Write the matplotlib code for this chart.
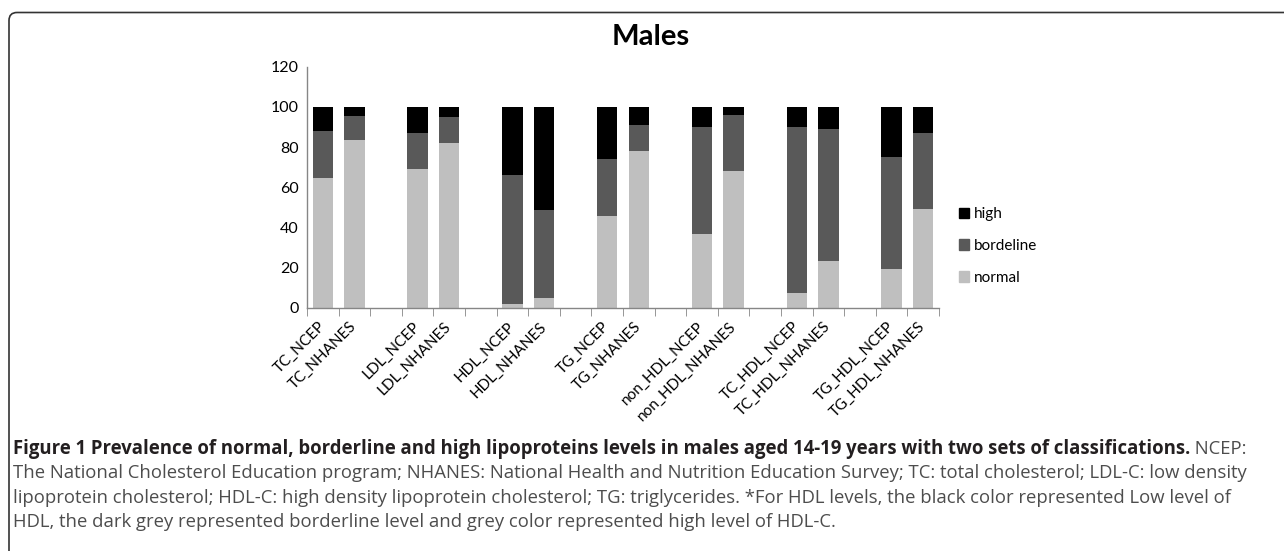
import matplotlib
matplotlib.use("Agg")
import matplotlib.pyplot as plt
from matplotlib.patches import FancyBboxPatch, Patch
import numpy as np

# category slots (blank strings are the gaps Excel leaves between groups)
labels = ["TC_NCEP", "TC_NHANES", "",
          "LDL_NCEP", "LDL_NHANES", "",
          "HDL_NCEP", "HDL_NHANES", "",
          "TG_NCEP", "TG_NHANES", "",
          "non_HDL_NCEP", "non_HDL_NHANES", "",
          "TC_HDL_NCEP", "TC_HDL_NHANES", "",
          "TG_HDL_NCEP", "TG_HDL_NHANES"]

normal = [64.7, 83.3, 69.2, 82.2, 1.8, 5.0, 45.8, 78.0, 36.7, 68.3, 7.2, 23.3, 19.2, 49.2]
borderline = [23.3, 12.2, 17.8, 13.0, 64.2, 43.4, 28.0, 13.0, 53.5, 27.7, 83.0, 65.9, 56.0, 38.0]
high = [12.0, 4.5, 13.0, 4.8, 34.0, 51.6, 26.2, 9.0, 9.8, 4.0, 9.8, 10.8, 24.8, 12.8]

yticks = [0, 20, 40, 60, 80, 100, 120]

caption_bold = ("Figure 1 Prevalence of normal, borderline and high lipoproteins levels "
                "in males aged 14-19 years with two sets of classifications.")
caption_lines = [
    " NCEP:",
    "The National Cholesterol Education program; NHANES: National Health and Nutrition "
    "Education Survey; TC: total cholesterol; LDL-C: low density",
    "lipoprotein cholesterol; HDL-C: high density lipoprotein cholesterol; TG: triglycerides. "
    "*For HDL levels, the black color represented Low level of",
    "HDL, the dark grey represented borderline level and grey color represented high level of HDL-C.",
]

C_NORMAL = "#bfbfbf"
C_BORDER = "#595959"
C_HIGH = "#000000"
AXIS_C = "#868686"

W, H = 1284, 551
fig = plt.figure(figsize=(W / 100, H / 100), dpi=100)

# rounded frame around the figure panel (pixel coordinates)
frame = FancyBboxPatch((9, -40), 1320, H - 12.5 + 40,
                       boxstyle="round,pad=0,rounding_size=8",
                       transform=None, fill=False, edgecolor="#333333", linewidth=1.2)
fig.patches.append(frame)

ax = fig.add_axes([307 / W, 1 - 307.7 / H, (939 - 307) / W, (307.7 - 66.7) / H])

xpos = np.array([i for i, lab in enumerate(labels) if lab])
normal = np.array(normal)
borderline = np.array(borderline)
high = np.array(high)
bw = 0.65
ax.bar(xpos, normal, bw, color=C_NORMAL, label="normal")
ax.bar(xpos, borderline, bw, bottom=normal, color=C_BORDER, label="bordeline")
ax.bar(xpos, high, bw, bottom=normal + borderline, color=C_HIGH, label="high")

ax.set_xlim(-0.5, len(labels) - 0.5)
ax.set_ylim(0, 120)
ax.set_yticks(yticks)
ax.set_xticks(np.arange(len(labels)))
ax.set_xticklabels(labels, rotation=45, ha="right", va="center", rotation_mode="anchor",
                   fontfamily="Lato", fontsize=11)
ax.set_xticks(np.arange(-0.5, len(labels)), minor=True)
ax.tick_params(axis="x", which="major", length=0, pad=12)
ax.tick_params(axis="x", which="minor", length=6, color=AXIS_C, direction="out")
ax.tick_params(axis="y", length=0, pad=6)
for t in ax.get_yticklabels():
    t.set_fontfamily("Lato")
    t.set_fontsize(11.5)
for s in ["top", "right"]:
    ax.spines[s].set_visible(False)
for s in ["left", "bottom"]:
    ax.spines[s].set_color(AXIS_C)
    ax.spines[s].set_linewidth(1.0)

handles = [Patch(color=C_HIGH), Patch(color=C_BORDER), Patch(color=C_NORMAL)]
fig.legend(handles, ["high", "bordeline", "normal"], loc="center left",
           bbox_to_anchor=(945 / W, 1 - 246 / H), frameon=False,
           prop={"family": "Lato", "size": 11},
           handlelength=0.7, handleheight=0.7, handletextpad=0.3, labelspacing=1.15)

fig.text(651 / W, 1 - 37 / H, "Males", ha="center", va="center",
         fontfamily="Lato", fontweight="bold", fontsize=21)

# caption, fitted to the width of the second line
renderer = fig.canvas.get_renderer()
probe = fig.text(0, 0, caption_lines[1], fontfamily="Open Sans", fontsize=12)
wpx = probe.get_window_extent(renderer).width
probe.remove()
fs = 12 * (1243 - 13) / wpx

x0 = 13 / W
baselines = [454, 478.5, 503, 527]
tb = fig.text(x0, 1 - baselines[0] / H, caption_bold, fontfamily="Open Sans",
              fontweight="bold", fontsize=fs, color="#231f20", va="baseline")
bb = tb.get_window_extent(renderer)
fig.text(bb.x1 / W, 1 - baselines[0] / H, caption_lines[0], fontfamily="Open Sans",
         fontsize=fs, color="#4d4d4d", va="baseline")
for line, yb in zip(caption_lines[1:], baselines[1:]):
    fig.text(x0, 1 - yb / H, line, fontfamily="Open Sans", fontsize=fs,
             color="#4d4d4d", va="baseline")

fig.savefig("out.png", dpi=100)
